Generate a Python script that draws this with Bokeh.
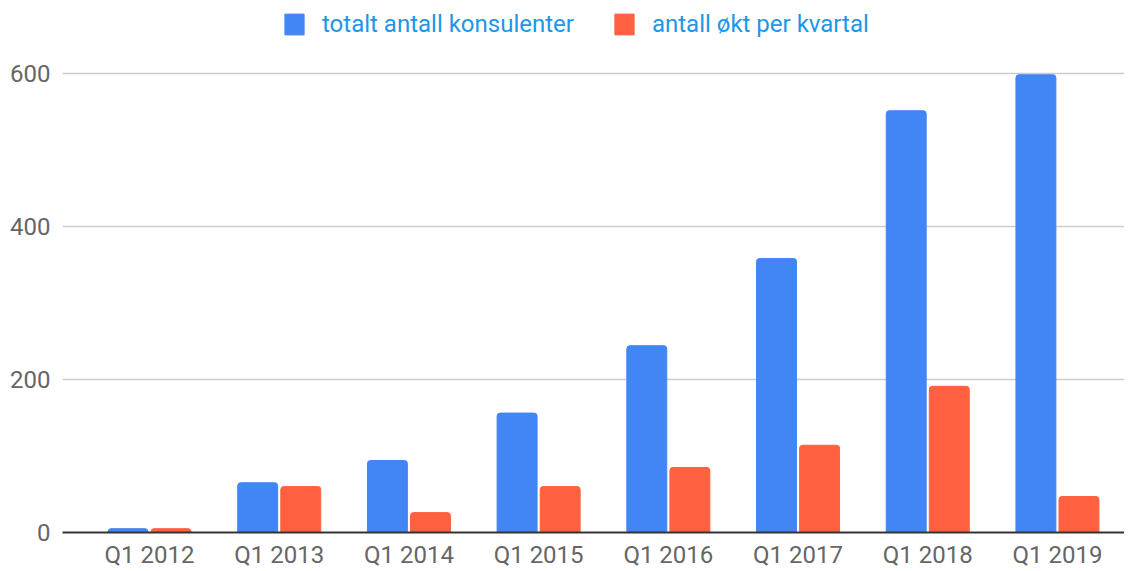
from bokeh.plotting import figure
from bokeh.models import ColumnDataSource, Range1d, FixedTicker, Legend, LegendItem
from bokeh.embed import file_html
from bokeh.resources import INLINE

categories = ["Q1 2012", "Q1 2013", "Q1 2014", "Q1 2015", "Q1 2016", "Q1 2017", "Q1 2018", "Q1 2019"]
totalt = [5, 65, 94, 156, 244, 358, 551, 598]
okt = [5, 60, 26, 60, 85, 114, 191, 47]
series_names = ["totalt antall konsulenter", "antall økt per kvartal"]
y_ticks = [0, 200, 400, 600]

idx = list(range(len(categories)))
src = ColumnDataSource(dict(
    xb=[i - 0.166 for i in idx],
    xr=[i + 0.166 for i in idx],
    totalt=totalt,
    okt=okt,
))

FONT = "Roboto"
FRAME_H = 532
p = figure(frame_width=1062, frame_height=FRAME_H, output_backend="svg", toolbar_location=None,
           x_range=Range1d(-0.671, 7.517), y_range=Range1d(0, 695),
           min_border_left=62, min_border_right=0, min_border_top=0, min_border_bottom=0)
p.outline_line_color = None

b = p.vbar(x="xb", top="totalt", width=0.308, source=src, color="#4285F4",
           border_radius=(3, 3, 0, 0))
r = p.vbar(x="xr", top="okt", width=0.308, source=src, color="#FF6140",
           border_radius=(3, 3, 0, 0))

p.xaxis.ticker = FixedTicker(ticks=idx)
p.xaxis.major_label_overrides = {i: c for i, c in zip(idx, categories)}
p.xaxis.major_tick_line_color = None
p.xaxis.major_tick_out = 0
p.xaxis.major_tick_in = 0
p.xaxis.minor_tick_line_color = None
p.xaxis.axis_line_color = "#333333"
p.xaxis.axis_line_width = 2
p.xaxis.major_label_text_font = FONT
p.xaxis.major_label_text_font_size = "24px"
p.xaxis.major_label_text_color = "#666666"
p.xaxis.major_label_standoff = 8
p.xgrid.grid_line_color = None

p.yaxis.ticker = FixedTicker(ticks=y_ticks)
p.yaxis.axis_line_color = None
p.yaxis.major_tick_line_color = None
p.yaxis.major_tick_out = 0
p.yaxis.major_tick_in = 0
p.yaxis.minor_tick_line_color = None
p.yaxis.major_label_text_font = FONT
p.yaxis.major_label_text_font_size = "24px"
p.yaxis.major_label_text_color = "#666666"
p.yaxis.major_label_standoff = 12
p.ygrid.ticker = FixedTicker(ticks=y_ticks[1:])
p.ygrid.grid_line_color = "#CCCCCC"
p.ygrid.grid_line_width = 1.5

legend = Legend(items=[LegendItem(label=series_names[0], renderers=[b]),
                       LegendItem(label=series_names[1], renderers=[r])],
                orientation="horizontal", location=(220, FRAME_H - 38),
                label_text_font=FONT, label_text_font_size="24px",
                label_text_color="#1E96E8", glyph_width=24, glyph_height=26,
                label_standoff=16, spacing=38, border_line_color=None,
                background_fill_alpha=0, margin=0, padding=0)
p.add_layout(legend)

open("out.html", "w").write(file_html(p, INLINE))
